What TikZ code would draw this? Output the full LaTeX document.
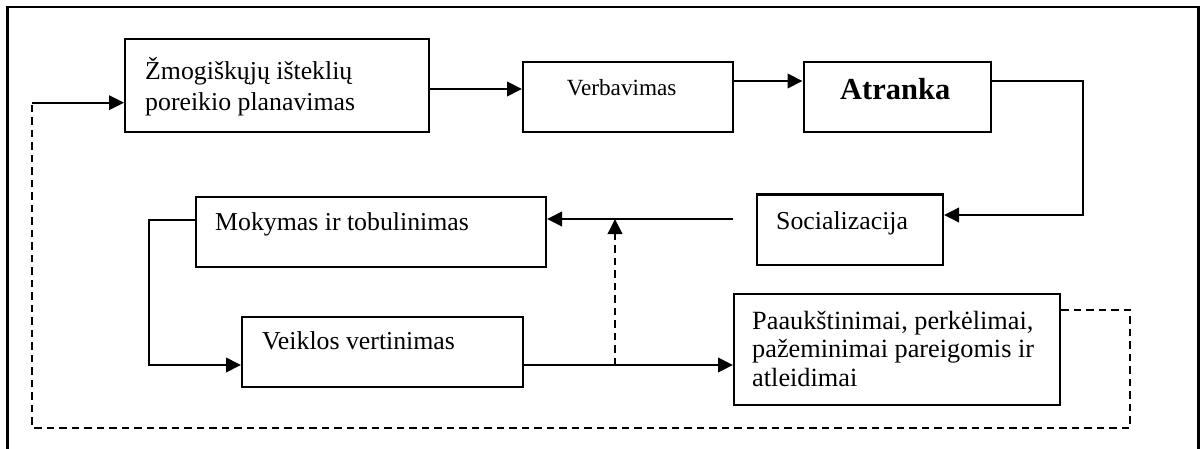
\documentclass[tikz,border=0pt]{standalone}
\usepackage{fontspec}
\setmainfont{Liberation Serif}
\usetikzlibrary{arrows.meta}
\begin{document}
\begin{tikzpicture}[x=1pt,y=-1pt,
  stage/.style={draw, line width=2pt, rectangle, inner sep=0pt, anchor=north west},
  lbl/.style={anchor=base west, inner sep=0pt, font=\fontsize{25.8}{31}\selectfont},
  tip/.style={-{Triangle[length=15pt,width=14.5pt]}},
  flow/.style={line width=2pt, tip},
  back/.style={line width=2pt, dash pattern=on 7.5pt off 5pt},
  frame/.style={line width=2.8pt}
]
\useasboundingbox (0,0) rectangle (1201,449);

% outer frame (open at the bottom)
\draw[frame] (7.5,452) -- (7.5,7) -- (1198.5,7) -- (1198.5,452);

% stages
\node[stage, minimum width=304pt, minimum height=93pt]  (plan)  at (124,38)    {};
\node[stage, minimum width=210pt, minimum height=69.5pt] (verb) at (522,61.5)  {};
\node[stage, minimum width=187.5pt, minimum height=69.5pt] (atr) at (802.5,61.5) {};
\node[stage, minimum width=186pt, minimum height=70pt]  (soc)   at (756,193.5) {};
\node[stage, minimum width=350pt, minimum height=70pt]  (mok)   at (195,196)   {};
\node[stage, minimum width=281pt, minimum height=70pt]  (veik)  at (241,316)   {};
\node[stage, minimum width=326pt, minimum height=111pt] (paauk) at (733,292.5) {};

% stage texts
\node[lbl] (plan1) at (145,80)  {Žmogiškųjų išteklių};
\node[lbl] (plan2) at (145,111) {poreikio planavimas};
\node[lbl, font=\fontsize{23.2}{27}\selectfont] (verbt) at (566.7,95.5) {Verbavimas};
\node[lbl, font=\fontsize{30.5}{35}\selectfont\bfseries] (atrt) at (840,100) {Atranka};
\node[lbl] (soct)  at (776,229.3) {Socializacija};
\node[lbl] (mokt)  at (215,230.5) {Mokymas ir tobulinimas};
\node[lbl] (veikt) at (262,349)   {Veiklos vertinimas};
\node[lbl, font=\fontsize{26.3}{30}\selectfont] (pa1) at (752,329.3) {Paaukštinimai, perkėlimai,};
\node[lbl, font=\fontsize{26.3}{30}\selectfont] (pa2) at (752,357.7) {pažeminimai pareigomis ir};
\node[lbl, font=\fontsize{26.3}{30}\selectfont] (pa3) at (752,386.7) {atleidimai};

% helper points
\coordinate (socline) at (733,219);
\coordinate (branch)  at (615,365);
\coordinate (merge)   at (615,219);
\coordinate (fbend)   at (31.7,102.7);

% main flow
\draw[flow] (plan.east |- 0,89) -- (verb.west |- 0,89);
\draw[flow] (verb.east |- 0,81) -- (atr.west |- 0,81);
\draw[flow] (atr.east |- 0,81) -- (1082.5,81) -- (1082.5,215) -- (soc.east |- 0,215);
\draw[flow] (socline) -- (mok.east |- socline);
\draw[flow] (mok.west |- 0,219.5) -- (148.5,219.5) -- (148.5,365) -- (veik.west |- 0,365);
\draw[flow] (veik.east |- branch) -- (paauk.west |- branch);

% dashed return from evaluation
\draw[back] (branch) -- ([yshift=-4pt]merge);
\draw[flow] ([yshift=-16pt]merge) -- (merge);

% dashed feedback loop to planning
\draw[back] (paauk.east |- 0,310) -- (1130,310) -- (1130,427.5) -- (31.7,427.5) -- (fbend);
\draw[flow] (fbend) -- (plan.west |- fbend);
\end{tikzpicture}
\end{document}
